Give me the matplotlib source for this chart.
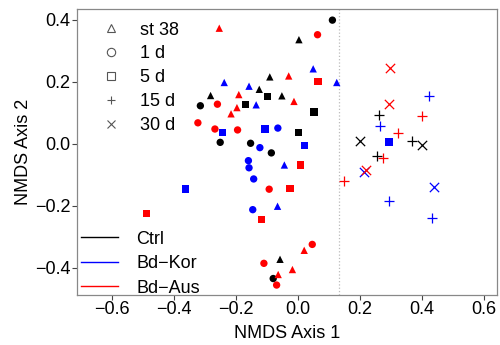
import matplotlib
matplotlib.use("Agg")
import matplotlib.pyplot as plt
from matplotlib.lines import Line2D

plt.rcParams['font.family'] = ['Liberation Sans', 'DejaVu Sans']

# NMDS scores, by treatment and sampling time
groups = ['Ctrl', 'Bd\u2212Kor', 'Bd\u2212Aus']
group_colors = {'Ctrl': 'black', 'Bd\u2212Kor': 'blue', 'Bd\u2212Aus': 'red'}
times = ['st 38', '1 d', '5 d', '15 d', '30 d']
time_markers = {'st 38': '^', '1 d': 'o', '5 d': 's', '15 d': '+', '30 d': 'x'}

ctrl_x = {
    'st 38': [-0.282, -0.125, -0.091, 0.003, -0.052, -0.058],
    '1 d': [-0.315, -0.251, -0.153, -0.086, 0.111, -0.080],
    '5 d': [-0.170, -0.099, 0.052, 0.001],
    '15 d': [0.262, 0.369, 0.254],
    '30 d': [0.200, 0.400],
}
ctrl_y = {
    'st 38': [0.156, 0.176, 0.216, 0.336, 0.155, -0.372],
    '1 d': [0.123, 0.005, 0.002, -0.029, 0.399, -0.434],
    '5 d': [0.127, 0.152, 0.103, 0.036],
    '15 d': [0.093, 0.009, -0.038],
    '30 d': [0.009, -0.004],
}
kor_x = {
    'st 38': [-0.238, -0.158, -0.135, 0.049, 0.125, -0.044, -0.066],
    '1 d': [-0.123, -0.065, -0.160, -0.158, -0.143, -0.146],
    '5 d': [-0.244, -0.107, 0.020, -0.364, 0.294],
    '15 d': [0.424, 0.266, 0.294, 0.432],
    '30 d': [0.214, 0.438],
}
kor_y = {
    'st 38': [0.198, 0.186, 0.126, 0.242, 0.198, -0.068, -0.201],
    '1 d': [-0.012, 0.051, -0.054, -0.077, -0.113, -0.212],
    '5 d': [0.036, 0.048, -0.005, -0.145, 0.006],
    '15 d': [0.153, 0.059, -0.183, -0.240],
    '30 d': [-0.091, -0.139],
}
aus_x = {
    'st 38': [-0.254, -0.191, -0.197, -0.216, -0.030, -0.013, 0.020, -0.018, -0.064],
    '1 d': [-0.260, -0.323, -0.268, -0.195, 0.063, -0.093, 0.046, -0.110, -0.069],
    '5 d': [0.065, 0.009, -0.026, -0.117, -0.488],
    '15 d': [0.401, 0.323, 0.275, 0.148],
    '30 d': [0.297, 0.294, 0.218],
}
aus_y = {
    'st 38': [0.373, 0.159, 0.117, 0.097, 0.219, 0.137, -0.343, -0.405, -0.421],
    '1 d': [0.128, 0.068, 0.048, 0.045, 0.352, -0.146, -0.324, -0.385, -0.455],
    '5 d': [0.202, -0.068, -0.144, -0.243, -0.224],
    '15 d': [0.090, 0.035, -0.046, -0.119],
    '30 d': [0.246, 0.129, -0.084],
}
split_x = 0.132

xs = {'Ctrl': ctrl_x, 'Bd\u2212Kor': kor_x, 'Bd\u2212Aus': aus_x}
ys = {'Ctrl': ctrl_y, 'Bd\u2212Kor': kor_y, 'Bd\u2212Aus': aus_y}

fig = plt.figure(figsize=(5, 3.45), dpi=100)
ax = fig.add_axes([0.154, 0.145, 0.84, 0.829])

for g in groups:
    for t in times:
        m = time_markers[t]
        if m in ('+', 'x'):
            ax.scatter(xs[g][t], ys[g][t], marker=m, s=45, c=group_colors[g],
                       linewidths=0.9, zorder=3)
        else:
            ax.scatter(xs[g][t], ys[g][t], marker=m, s=28, c=group_colors[g],
                       edgecolors='none', zorder=3)

ax.axvline(split_x, color='#bbbbbb', ls=':', lw=0.9, zorder=1)

ax.set_xlim(-0.713, 0.642)
ax.set_ylim(-0.487, 0.435)
ax.set_xticks([-0.6, -0.4, -0.2, 0.0, 0.2, 0.4, 0.6])
ax.set_yticks([-0.4, -0.2, 0.0, 0.2, 0.4])
ax.set_xticklabels(['\u22120.6', '\u22120.4', '\u22120.2', '0.0', '0.2', '0.4', '0.6'])
ax.set_yticklabels(['\u22120.4', '\u22120.2', '0.0', '0.2', '0.4'])
ax.tick_params(labelsize=13, length=3.5, width=0.8, color='#444444', pad=1)
for s in ax.spines.values():
    s.set_color('#888888')
    s.set_linewidth(0.9)
ax.set_xlabel('NMDS Axis 1', fontsize=13, labelpad=5)
ax.set_ylabel('NMDS Axis 2', fontsize=13, labelpad=2)

time_handles = [Line2D([], [], ls='none', marker=time_markers[t], color='#555555',
                       markerfacecolor='none', markersize=6, markeredgewidth=0.8)
                for t in times]
leg1 = ax.legend(time_handles, times, loc='upper left', frameon=False, fontsize=13,
                 bbox_to_anchor=(0.025, 1.0), handlelength=1.2, handletextpad=1.0,
                 labelspacing=0.38, borderaxespad=0.3)
ax.add_artist(leg1)

group_handles = [Line2D([], [], color=group_colors[g], lw=1) for g in groups]
ax.legend(group_handles, groups, loc='lower left', frameon=False, fontsize=13,
          bbox_to_anchor=(-0.012, -0.038), handlelength=2.05, handletextpad=1.0,
          labelspacing=0.42, borderaxespad=0.1)

fig.savefig('out.png', dpi=100)
